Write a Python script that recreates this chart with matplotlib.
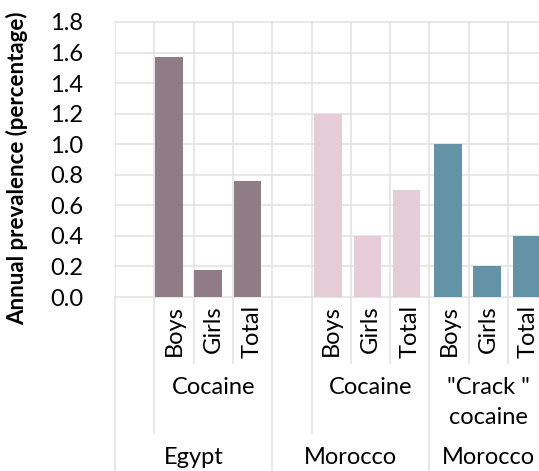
import matplotlib
matplotlib.use("Agg")
import matplotlib.pyplot as plt
from matplotlib.transforms import blended_transform_factory

plt.rcParams['font.family'] = ['Lato', 'DejaVu Sans']

# data
countries = ['Egypt', 'Morocco', 'Morocco']
drugs = ['Cocaine', 'Cocaine', '"Crack "\ncocaine']
subgroups = ['Boys', 'Girls', 'Total']
egypt_cocaine = [1.57, 0.18, 0.76]
morocco_cocaine = [1.20, 0.40, 0.70]
morocco_crack = [1.00, 0.20, 0.40]
series = [egypt_cocaine, morocco_cocaine, morocco_crack]
colors = ['#907c86', '#e5ccd6', '#6493a7']
# each group in the excel sheet had an empty leading row except the last one
blank_row = [True, True, False]
yticks = [0.0, 0.2, 0.4, 0.6, 0.8, 1.0, 1.2, 1.4, 1.6, 1.8]

W, H = 539, 471
fig = plt.figure(figsize=(W / 100, H / 100), dpi=100)
slot_px = 39.3
ax = fig.add_axes([115 / W, 1 - 297 / H, (W - 115) / W, (297 - 22) / H])
ax.set_xlim(0, (W - 115) / slot_px)
ax.set_ylim(0, 1.8)

grid_c = '#e3e3e3'
fs = 17

# lay out slots
starts, ends, bar_x = [], [], []
pos = 0
for g, vals in enumerate(series):
    starts.append(pos)
    if blank_row[g]:
        pos += 1
    xs = [pos + i for i in range(len(vals))]
    bar_x.append(xs)
    pos += len(vals)
    ends.append(pos)

shift = [-0.13, -0.08, -0.03]
for g, vals in enumerate(series):
    xs = [x + 0.5 + shift[g] for x in bar_x[g]]
    ax.bar(xs, vals, width=0.70, color=colors[g], zorder=3)

# gridlines
for y in yticks:
    ax.axhline(y, color=grid_c, lw=1.2, zorder=1, clip_on=False)
for x in range(0, pos):
    ax.axvline(x, color=grid_c, lw=1.2, zorder=1)

for s in ax.spines.values():
    s.set_visible(False)
ax.set_yticks(yticks)
ax.set_yticklabels([f'{v:.1f}' for v in yticks], fontsize=fs)
ax.tick_params(axis='y', length=0, pad=23)
ax.set_xticks([])

fy = lambda ypx: 1 - ypx / H
fig.text(17 / W, fy(168), 'Annual prevalence (percentage)', rotation=90,
         ha='center', va='center', fontsize=16, fontweight='bold')

tr = blended_transform_factory(ax.transData, fig.transFigure)

def vline(x, y0, y1):
    ax.plot([x, x], [fy(y0), fy(y1)], color=grid_c, lw=1.2, transform=tr, clip_on=False)

for g, xs in enumerate(bar_x):
    # subgroup labels and separators
    for i, x in enumerate(xs):
        ax.text(x + 0.5, fy(305), subgroups[i], rotation=90, ha='center', va='top',
                fontsize=fs, transform=tr)
        if i > 0:
            vline(x, 297, 363)
    # drug level, one line at a time
    mid = (xs[0] + xs[-1] + 1) / 2
    for k, line in enumerate(drugs[g].split('\n')):
        ax.text(mid, fy(387 + 30 * k), line, ha='center', va='center', fontsize=fs,
                transform=tr)
    if blank_row[g]:
        vline(xs[0], 297, 433)
    # country level
    ax.text((starts[g] + ends[g]) / 2, fy(457), countries[g], ha='center', va='center',
            fontsize=fs, transform=tr)
    vline(starts[g], 297, H)
vline(ends[-1], 297, H)

fig.savefig('out.png', dpi=100)
